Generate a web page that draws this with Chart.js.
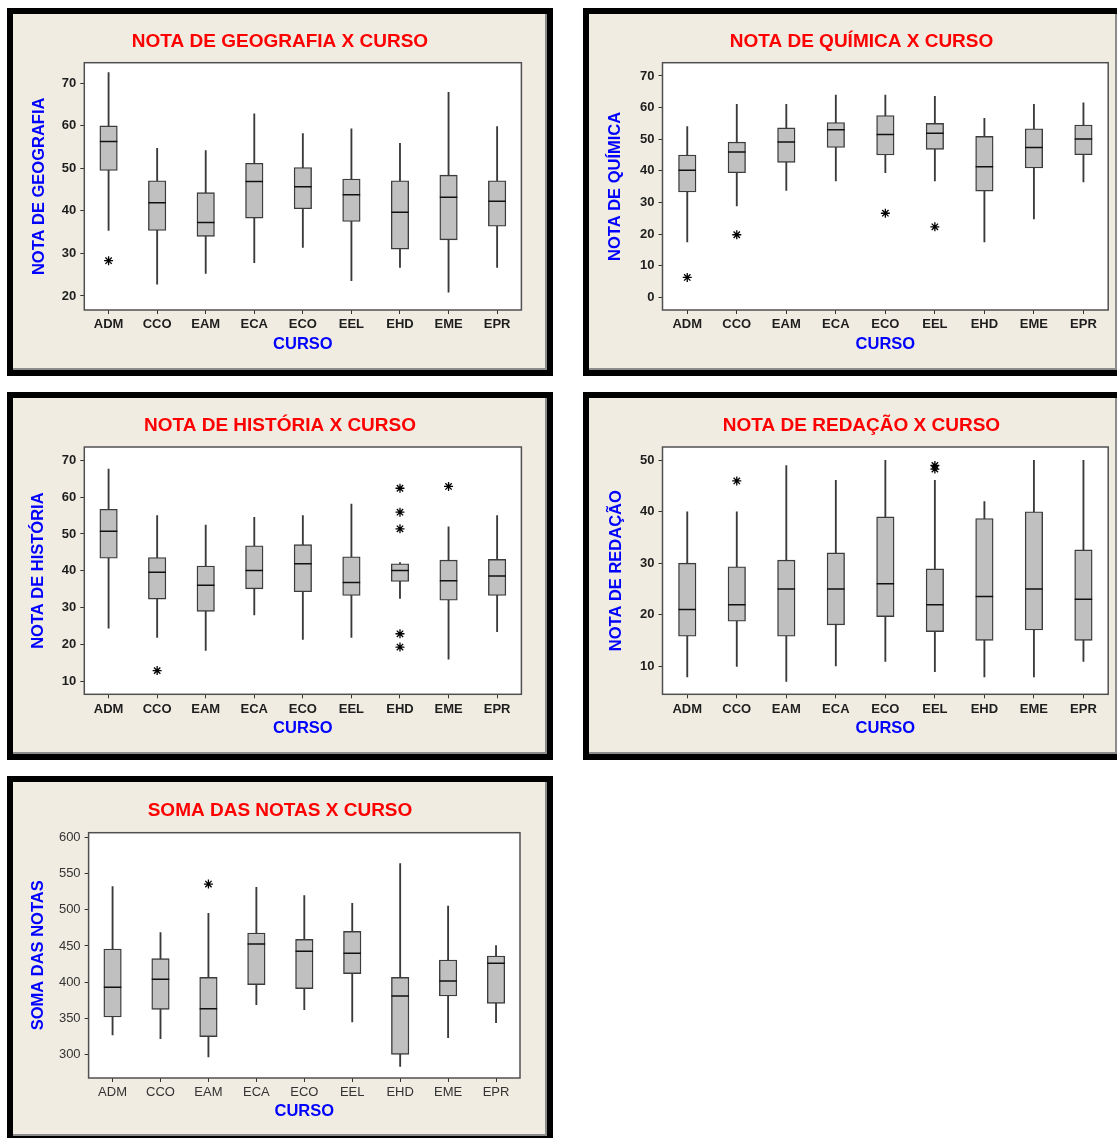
<!DOCTYPE html>
<html>
<head>
<meta charset="utf-8">
<title>Notas x Curso</title>
<script src="https://cdn.jsdelivr.net/npm/chart.js@4.4.1/dist/chart.umd.min.js"></script>
<style>
  html, body { margin: 0; padding: 0; background: #ffffff; overflow: hidden; width: 1118px; height: 1138px; }
  .panel { position: absolute; box-sizing: border-box; border: 6px solid #000; background: #f0ece2;
           overflow: hidden; box-shadow: inset -2px -2px 0 #8c8c8c; }
  .panel.cut { border-right-width: 0; }
  .panel canvas { position: absolute; left: 0; top: 0; }
</style>
</head>
<body>
<div class="panel" style="left:7px;top:8px;width:546px;height:368px"><canvas id="cGeo" width="534" height="356"></canvas></div>
<div class="panel cut" style="left:583px;top:8px;width:534px;height:368px"><canvas id="cQui" width="545" height="356"></canvas></div>
<div class="panel" style="left:7px;top:392px;width:546px;height:368px"><canvas id="cHis" width="534" height="356"></canvas></div>
<div class="panel cut" style="left:583px;top:392px;width:534px;height:368px"><canvas id="cRed" width="545" height="356"></canvas></div>
<div class="panel" style="left:7px;top:776px;width:546px;height:366px"><canvas id="cSom" width="534" height="354"></canvas></div>

<script>
// Courses on the x axis
const courses = ['ADM', 'CCO', 'EAM', 'ECA', 'ECO', 'EEL', 'EHD', 'EME', 'EPR'];

// Geografia: whisker ranges [low, high], boxes [Q1, Q3], medians, outliers
const geoWhiskers = [[35.4, 72.5], [22.8, 54.7], [25.3, 54.2], [27.8, 62.8], [31.4, 58.2], [23.6, 59.3], [26.7, 55.9], [20.9, 67.9], [26.7, 59.8]];
const geoBoxes    = [[49.5, 60.0], [35.4, 47.1], [34.0, 44.3], [38.3, 51.2], [40.5, 50.2], [37.5, 47.5], [31.0, 47.1], [33.2, 48.4], [36.4, 47.1]];
const geoMedians  = [56.3, 41.9, 37.3, 46.9, 45.7, 43.8, 39.7, 43.2, 42.3];
const geoOutliers = [{ x: 'ADM', y: 28.3 }];
const geoTicks    = [20, 30, 40, 50, 60, 70];

// Química
const quiWhiskers = [[17.5, 54.0], [28.9, 61.0], [33.8, 61.0], [36.8, 64.0], [39.4, 64.0], [36.8, 63.6], [17.5, 56.6], [24.8, 61.0], [36.5, 61.5]];
const quiBoxes    = [[33.3, 45.0], [39.4, 49.1], [42.7, 53.6], [47.4, 55.3], [45.0, 57.5], [46.8, 55.0], [33.6, 50.9], [40.9, 53.3], [45.1, 54.5]];
const quiMedians  = [40.2, 46.0, 49.1, 53.0, 51.5, 51.9, 41.3, 47.4, 50.1];
const quiOutliers = [{ x: 'ADM', y: 6.3 }, { x: 'CCO', y: 19.8 }, { x: 'ECO', y: 26.6 }, { x: 'EEL', y: 22.3 }];
const quiTicks    = [0, 10, 20, 30, 40, 50, 60, 70];

// História
const hisWhiskers = [[24.4, 67.6], [21.9, 55.0], [18.4, 52.4], [28.0, 54.5], [21.4, 55.0], [21.9, 58.1], [32.5, 42.2], [16.0, 51.9], [23.5, 55.0]];
const hisBoxes    = [[43.4, 56.7], [32.3, 43.6], [29.0, 41.3], [35.1, 46.8], [34.3, 47.1], [33.3, 43.8], [37.1, 41.9], [32.0, 42.9], [33.3, 43.1]];
const hisMedians  = [50.7, 39.6, 36.1, 40.1, 41.9, 36.8, 40.1, 37.3, 38.6];
const hisOutliers = [{ x: 'CCO', y: 12.9 }, { x: 'EHD', y: 62.4 }, { x: 'EHD', y: 55.9 }, { x: 'EHD', y: 51.4 },
                     { x: 'EHD', y: 22.9 }, { x: 'EHD', y: 19.3 }, { x: 'EME', y: 62.9 }];
const hisTicks    = [10, 20, 30, 40, 50, 60, 70];

// Redação
const redWhiskers = [[7.9, 40.0], [9.9, 40.0], [7.0, 49.0], [10.0, 46.1], [10.9, 50.0], [8.9, 46.1], [7.9, 42.0], [7.9, 50.0], [10.9, 50.0]];
const redBoxes    = [[15.8, 30.0], [18.7, 29.3], [15.8, 30.6], [18.0, 32.0], [19.6, 39.0], [16.7, 28.9], [15.0, 38.7], [17.0, 40.0], [15.0, 32.6]];
const redMedians  = [21.0, 21.9, 25.0, 25.0, 26.0, 21.9, 23.5, 25.0, 23.0];
const redOutliers = [{ x: 'CCO', y: 46.0 }, { x: 'EEL', y: 49.0 }, { x: 'EEL', y: 48.3 }];
const redTicks    = [10, 20, 30, 40, 50];

// Soma das notas
const somWhiskers = [[326.8, 532.2], [321.7, 468.5], [296.3, 495.2], [368.8, 531.2], [361.8, 519.7], [344.8, 509.1], [283.4, 564.0], [323.1, 505.4], [343.9, 450.5]];
const somBoxes    = [[351.7, 445.8], [362.3, 432.5], [324.5, 406.6], [396.5, 468.0], [390.9, 459.2], [411.7, 470.3], [300.0, 406.6], [380.8, 430.6], [370.6, 436.2]];
const somMedians  = [392.8, 403.8, 363.2, 452.8, 442.6, 439.8, 380.8, 401.5, 426.0];
const somOutliers = [{ x: 'EAM', y: 535.8 }];
const somTicks    = [300, 350, 400, 450, 500, 550, 600];

const FONT = "'Liberation Sans', Arial, Helvetica, sans-serif";

// White plotting area with a dark frame around it
const plotFrame = {
  id: 'plotFrame',
  beforeDraw(chart) {
    const a = chart.chartArea, ctx = chart.ctx;
    ctx.save();
    ctx.fillStyle = '#ffffff';
    ctx.fillRect(a.left, a.top, a.right - a.left, a.bottom - a.top);
    ctx.restore();
  },
  afterDraw(chart) {
    const a = chart.chartArea, ctx = chart.ctx;
    ctx.save();
    ctx.strokeStyle = '#505050';
    ctx.lineWidth = 1.5;
    ctx.strokeRect(a.left, a.top, a.right - a.left, a.bottom - a.top);
    ctx.restore();
  }
};

function boxChart(id, spec) {
  const g = spec.layout;
  const titleLH = 19 * 1.2;
  const axisSize = 16.5;
  const axisLH = axisSize * 1.2;
  const tickFont = { family: FONT, size: 13, weight: spec.boldTicks ? 'bold' : 'normal' };
  const tickColor = spec.boldTicks ? '#1e1e1e' : '#333333';

  new Chart(document.getElementById(id), {
    type: 'bar',
    data: {
      labels: courses,
      datasets: [
        { type: 'bar', data: spec.whiskers, backgroundColor: '#3a3a3a', barThickness: 1.2, grouped: false, order: 3 },
        { type: 'bar', data: spec.boxes, backgroundColor: '#c0c0c0', borderColor: '#3c3c3c', borderWidth: 1.4,
          borderSkipped: false, barThickness: 17.5, grouped: false, order: 2 },
        { type: 'line', data: spec.medians, showLine: false, pointStyle: 'line', pointRadius: 8.75,
          pointBorderWidth: 1.5, pointBorderColor: '#111111', order: 1 },
        { type: 'line', data: spec.outliers, showLine: false, pointStyle: 'star', pointRadius: 4.5,
          pointBorderWidth: 1.3, pointBorderColor: '#000000', order: 0 }
      ]
    },
    options: {
      responsive: false,
      animation: false,
      devicePixelRatio: 1,
      events: [],
      layout: { padding: 0 },
      plugins: {
        legend: { display: false },
        tooltip: { enabled: false },
        title: {
          display: true,
          text: spec.title,
          color: '#ff0000',
          font: { family: FONT, size: 19, weight: 'bold' },
          padding: { top: g.titleY - titleLH / 2, bottom: g.top - g.titleY - titleLH / 2 }
        }
      },
      scales: {
        x: {
          offset: true,
          border: { display: false },
          grid: { display: true, offset: false, drawOnChartArea: false, drawTicks: true, tickLength: 4, color: '#333333' },
          ticks: { font: tickFont, color: tickColor, padding: 3, maxRotation: 0, autoSkip: false },
          title: { display: true, text: 'CURSO', color: '#0000ff', font: { family: FONT, size: axisSize, weight: 'bold' },
                   padding: { top: 0, bottom: g.xTitle - axisLH / 2 } },
          afterFit(s) { s.height = g.bottom; }
        },
        y: {
          min: spec.min,
          max: spec.max,
          border: { display: false },
          grid: { display: true, drawOnChartArea: false, drawTicks: true, tickLength: 4, color: '#333333' },
          ticks: { font: tickFont, color: tickColor, padding: 4 },
          title: { display: true, text: spec.yTitle, color: '#0000ff', font: { family: FONT, size: axisSize, weight: 'bold' },
                   padding: { top: g.yTitle - axisLH / 2, bottom: 0 } },
          afterBuildTicks(s) { s.ticks = spec.ticks.map(v => ({ value: v })); },
          afterFit(s) { s.width = g.left; }
        },
        spacer: {
          position: 'right',
          display: true,
          border: { display: false },
          grid: { display: false, drawTicks: false },
          ticks: { display: false },
          afterFit(s) { s.width = g.right; }
        }
      }
    },
    plugins: [plotFrame]
  });
}

const wideLayout  = { left: 71.3, right: 25.6, top: 48.7, bottom: 60, titleY: 28.2, yTitle: 26.3, xTitle: 25.2 };
const cutLayout   = { left: 73.5, right: 25.8, top: 48.7, bottom: 60, titleY: 28.2, yTitle: 26.7, xTitle: 25.2 };

boxChart('cGeo', { title: 'NOTA DE GEOGRAFIA X CURSO', yTitle: 'NOTA DE GEOGRAFIA', boldTicks: true,
  whiskers: geoWhiskers, boxes: geoBoxes, medians: geoMedians, outliers: geoOutliers, ticks: geoTicks,
  min: 16.7, max: 74.85, layout: wideLayout });

boxChart('cQui', { title: 'NOTA DE QUÍMICA X CURSO', yTitle: 'NOTA DE QUÍMICA', boldTicks: true,
  whiskers: quiWhiskers, boxes: quiBoxes, medians: quiMedians, outliers: quiOutliers, ticks: quiTicks,
  min: -4.0, max: 74.2, layout: cutLayout });

boxChart('cHis', { title: 'NOTA DE HISTÓRIA X CURSO', yTitle: 'NOTA DE HISTÓRIA', boldTicks: true,
  whiskers: hisWhiskers, boxes: hisBoxes, medians: hisMedians, outliers: hisOutliers, ticks: hisTicks,
  min: 6.47, max: 73.6,
  layout: { left: 71.3, right: 25.6, top: 49, bottom: 59.7, titleY: 27.8, yTitle: 25.75, xTitle: 25.3 } });

boxChart('cRed', { title: 'NOTA DE REDAÇÃO X CURSO', yTitle: 'NOTA DE REDAÇÃO', boldTicks: true,
  whiskers: redWhiskers, boxes: redBoxes, medians: redMedians, outliers: redOutliers, ticks: redTicks,
  min: 4.5, max: 52.6,
  layout: { left: 73.5, right: 25.8, top: 49, bottom: 59.7, titleY: 27.8, yTitle: 27, xTitle: 25.3 } });

boxChart('cSom', { title: 'SOMA DAS NOTAS X CURSO', yTitle: 'SOMA DAS NOTAS', boldTicks: false,
  whiskers: somWhiskers, boxes: somBoxes, medians: somMedians, outliers: somOutliers, ticks: somTicks,
  min: 267.2, max: 606.9,
  layout: { left: 75.6, right: 27, top: 50.7, bottom: 58, titleY: 28.3, yTitle: 25.9, xTitle: 24.3 } });
</script>
</body>
</html>
